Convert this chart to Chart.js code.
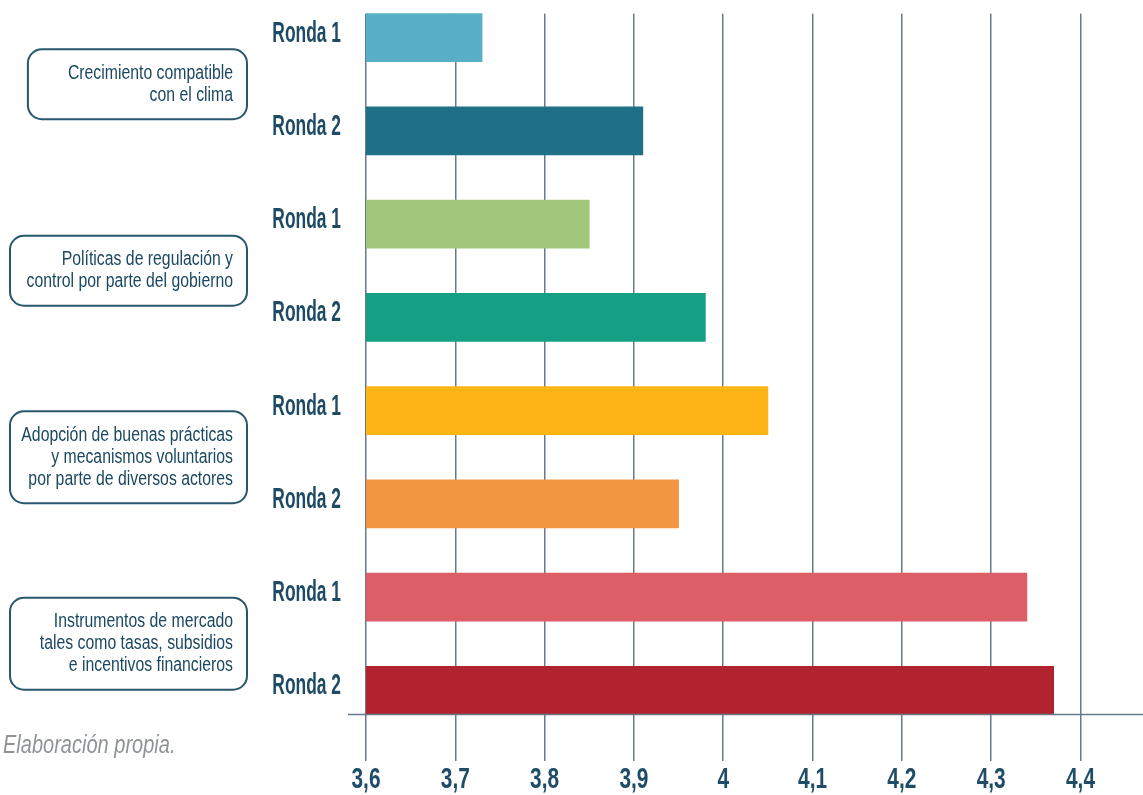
<!DOCTYPE html>
<html><head><meta charset="utf-8">
<script src="https://cdn.jsdelivr.net/npm/chart.js@4/dist/chart.umd.min.js"></script>
<style>
html,body{margin:0;padding:0;background:#fff;overflow:hidden;width:1143px;height:795px;}
#wrap{position:absolute;left:0;top:-20px;width:1143px;height:822px;}
</style></head><body>
<div id="wrap"><canvas id="c"></canvas></div>
<script>
const groupLabels = [
  ['Crecimiento compatible', 'con el clima'],
  ['Políticas de regulación y', 'control por parte del gobierno'],
  ['Adopción de buenas prácticas', 'y mecanismos voluntarios', 'por parte de diversos actores'],
  ['Instrumentos de mercado', 'tales como tasas, subsidios', 'e incentivos financieros']
];
const rondaLabels = ['Ronda 1', 'Ronda 2', 'Ronda 1', 'Ronda 2', 'Ronda 1', 'Ronda 2', 'Ronda 1', 'Ronda 2'];
const scores = [3.73, 3.91, 3.85, 3.98, 4.05, 3.95, 4.34, 4.37];
const barColors = ['#5aafc8', '#1f6f87', '#a3c77a', '#15a085', '#fdb515', '#f39641', '#dc5e67', '#b1232f'];
const xTickValues = [3.6, 3.7, 3.8, 3.9, 4.0, 4.1, 4.2, 4.3, 4.4];
const xTickLabels = ['3,6', '3,7', '3,8', '3,9', '4', '4,1', '4,2', '4,3', '4,4'];
const sourceNote = 'Elaboración propia.';

const FONT = "'Liberation Sans','Arial',sans-serif";
const gridColor = '#687a87';
const textColor = '#1e4b63';
const NATIVE_FILL = CanvasRenderingContext2D.prototype.fillText;

// draw text compressed horizontally around its anchor point
function narrowText(ctx, text, x, y, sx, dy) {
  ctx.save();
  ctx.translate(x, y + (dy || 0));
  ctx.scale(sx, 1);
  NATIVE_FILL.call(ctx, text, 0, 0);
  ctx.restore();
}

const decor = {
  id: 'decor',
  beforeDraw(chart) {
    const cfg = { x: { sx: 0.72, dy: 0 }, y: { sx: 0.6, dy: -4 } };
    Object.keys(cfg).forEach(id => {
      const s = chart.scales[id];
      if (!s || s._narrow) return;
      s._narrow = true;
      const proto = Object.getPrototypeOf(s);
      s.drawLabels = function (area) {
        const ctx = this.ctx;
        ctx.fillText = function (t, x, y) { narrowText(this, t, x, y, cfg[id].sx, cfg[id].dy); };
        try { proto.drawLabels.call(this, area); } finally { delete ctx.fillText; }
      };
    });
  },
  beforeDatasetsDraw(chart) {
    const ctx = chart.ctx, ca = chart.chartArea;
    const el = chart.getDatasetMeta(0).data[0];
    const top = el.y - el.height / 2;
    ctx.save();
    ctx.fillStyle = '#ffffff';
    ctx.fillRect(ca.left - 2, 0, chart.width, top);
    ctx.restore();
  },
  afterDraw(chart) {
    const ctx = chart.ctx, ca = chart.chartArea;
    const els = chart.getDatasetMeta(0).data;
    const last = els[els.length - 1];
    const lineY = last.y + last.height / 2;
    ctx.save();
    // baseline axis
    ctx.strokeStyle = gridColor;
    ctx.lineWidth = 1.5;
    ctx.beginPath();
    ctx.moveTo(ca.left - 18, lineY);
    ctx.lineTo(chart.width, lineY);
    ctx.stroke();
    // group boxes
    const bsx = 0.79;
    ctx.font = '20px ' + FONT;
    ctx.textAlign = 'right';
    ctx.textBaseline = 'middle';
    groupLabels.forEach((lines, g) => {
      const a = els[2 * g], b = els[2 * g + 1];
      const mid = (a.y + b.y) / 2;
      const lh = 22;
      const h = lines.length * lh + 26;
      const right = 247, textRight = 233;
      const maxW = Math.max(...lines.map(l => ctx.measureText(l).width)) * bsx;
      const left = Math.max(10, textRight - maxW - 40);
      ctx.strokeStyle = '#28566c';
      ctx.lineWidth = 2;
      ctx.beginPath();
      ctx.roundRect(left, mid - h / 2, right - left, h, 14);
      ctx.stroke();
      ctx.fillStyle = '#1b4860';
      lines.forEach((l, k) => {
        narrowText(ctx, l, textRight, mid - (lines.length - 1) * lh / 2 + k * lh, bsx, 0);
      });
    });
    // source note
    ctx.font = 'italic 26px ' + FONT;
    ctx.textAlign = 'left';
    ctx.fillStyle = '#8f9397';
    narrowText(ctx, sourceNote, 3, lineY + 31, 0.77, 0);
    ctx.restore();
  }
};

new Chart(document.getElementById('c'), {
  type: 'bar',
  data: {
    labels: rondaLabels,
    datasets: [{ data: scores, backgroundColor: barColors, barThickness: 48, borderWidth: 0 }]
  },
  options: {
    indexAxis: 'y',
    responsive: true,
    maintainAspectRatio: false,
    animation: false,
    layout: { padding: { top: 11, bottom: 4, left: 0, right: 0 } },
    plugins: { legend: { display: false }, tooltip: { enabled: false } },
    scales: {
      x: {
        type: 'linear', min: 3.6, max: 4.47, position: 'bottom',
        grid: { color: gridColor, lineWidth: 1.5, tickLength: 24, tickColor: gridColor, drawTicks: true },
        border: { display: false },
        afterBuildTicks(s) { s.ticks = xTickValues.map(v => ({ value: v })); },
        ticks: {
          autoSkip: false, maxRotation: 0, padding: 4, color: '#1f4d68',
          font: { family: FONT, size: 29, weight: 'bold', lineHeight: 1 },
          callback: (v, i) => xTickLabels[i]
        }
      },
      y: {
        type: 'category',
        grid: { display: false },
        border: { display: false },
        ticks: { padding: 17, color: textColor, font: { family: FONT, size: 29, weight: 'bold' } },
        afterFit(s) { s.width = 366; s.paddingTop = 0; s.paddingBottom = 0; }
      }
    }
  },
  plugins: [decor]
});
</script>
</body></html>
